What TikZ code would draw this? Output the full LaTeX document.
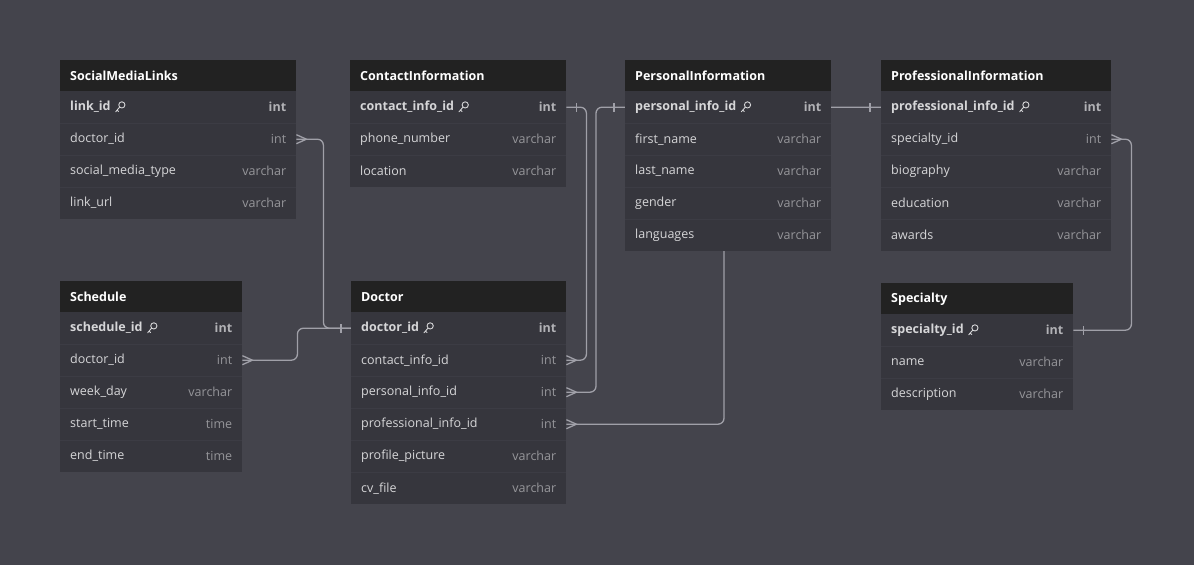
\documentclass[tikz,border=0pt]{standalone}
\usepackage{fontspec}
\setmainfont{Open Sans}
\usetikzlibrary{calc}
\pgfdeclarelayer{canvaslayer}
\pgfdeclarelayer{bg}
\pgfsetlayers{canvaslayer,bg,main}
\definecolor{canvas}{RGB}{68,68,76}
\definecolor{bodyc}{RGB}{54,54,61}
\definecolor{hdrc}{RGB}{34,34,34}
\definecolor{sepc}{RGB}{60,60,68}
\definecolor{fieldc}{RGB}{214,214,216}
\definecolor{typec}{RGB}{150,150,154}
\definecolor{pktypec}{RGB}{178,178,182}
\definecolor{linec}{RGB}{160,160,168}
\tikzset{
  x=1pt, y=-1pt,
  hdrbox/.style={fill=hdrc, draw=none, minimum height=32pt, inner sep=0pt, anchor=north west},
  rowbox/.style={fill=bodyc, draw=none, minimum height=32pt, inner sep=0pt, anchor=north west},
  hdrtext/.style={text=white, font=\fontsize{12.5}{14}\selectfont\bfseries, inner sep=0pt, anchor=west},
  fieldtext/.style={text=fieldc, font=\fontsize{12.5}{14}\selectfont, inner sep=0pt, anchor=west},
  pktext/.style={text=fieldc, font=\fontsize{12.5}{14}\selectfont\bfseries, inner sep=0pt, anchor=west},
  typetext/.style={text=typec, font=\fontsize{12.5}{14}\selectfont, inner sep=0pt, anchor=east},
  pktypetext/.style={text=pktypec, font=\fontsize{12.5}{14}\selectfont\bfseries, inner sep=0pt, anchor=east},
  conn/.style={draw=linec, line width=1.3pt, rounded corners=6pt},
  relmark/.style={draw=linec, line width=1.3pt},
  keyicon/.style={draw=fieldc, line width=0.9pt, line cap=round},
}
% table header: name, x, y, width, title
\newcommand{\erhead}[5]{%
  \node[hdrbox, minimum width=#4pt] (#1) at (#2,#3) {};
  \node[hdrtext] (#1-title) at ([xshift=10pt]#1.west) {#5};}
% normal row: name, x, ytop, width, field, type
\newcommand{\errow}[6]{%
  \node[rowbox, minimum width=#4pt] (#1) at (#2,#3) {};
  \draw[sepc, line width=0.6pt] (#1.north west) -- (#1.north east);
  \node[fieldtext] (#1-f) at ([xshift=10pt]#1.west) {#5};
  \node[typetext] (#1-t) at ([xshift=-10pt]#1.east) {#6};}
% primary key row: name, x, ytop, width, field, type
\newcommand{\erpk}[6]{%
  \node[rowbox, minimum width=#4pt] (#1) at (#2,#3) {};
  \node[pktext] (#1-f) at ([xshift=10pt]#1.west) {#5};
  \node[pktypetext] (#1-t) at ([xshift=-10pt]#1.east) {#6};
  \draw[keyicon] ([xshift=11pt,yshift=2.3pt]#1-f.east) circle (3.1pt);
  \draw[keyicon] ([xshift=8.8pt,yshift=0.1pt]#1-f.east) -- ([xshift=4.8pt,yshift=-4.6pt]#1-f.east)
     ([xshift=6.2pt,yshift=-2.9pt]#1-f.east) -- ([xshift=7.8pt,yshift=-4.3pt]#1-f.east);}
\begin{document}
\begin{tikzpicture}
\begin{pgfonlayer}{canvaslayer}
\fill[canvas] (0,0) rectangle (1194,565);
\end{pgfonlayer}
\useasboundingbox (0,0) rectangle (1194,565);

% SocialMediaLinks
\erhead{sml}{60}{60}{236}{SocialMediaLinks}
\erpk{sml1}{60}{91}{236}{link\_id}{int}
\errow{sml2}{60}{123}{236}{doctor\_id}{int}
\errow{sml3}{60}{155}{236}{social\_media\_type}{varchar}
\errow{sml4}{60}{187}{236}{link\_url}{varchar}

% ContactInformation
\erhead{con}{350}{60}{216}{ContactInformation}
\erpk{con1}{350}{91}{216}{contact\_info\_id}{int}
\errow{con2}{350}{123}{216}{phone\_number}{varchar}
\errow{con3}{350}{155}{216}{location}{varchar}

% PersonalInformation
\erhead{per}{625}{60}{206}{PersonalInformation}
\erpk{per1}{625}{91}{206}{personal\_info\_id}{int}
\errow{per2}{625}{123}{206}{first\_name}{varchar}
\errow{per3}{625}{155}{206}{last\_name}{varchar}
\errow{per4}{625}{187}{206}{gender}{varchar}
\errow{per5}{625}{219}{206}{languages}{varchar}

% ProfessionalInformation
\erhead{pro}{881}{60}{230}{ProfessionalInformation}
\erpk{pro1}{881}{91}{230}{professional\_info\_id}{int}
\errow{pro2}{881}{123}{230}{specialty\_id}{int}
\errow{pro3}{881}{155}{230}{biography}{varchar}
\errow{pro4}{881}{187}{230}{education}{varchar}
\errow{pro5}{881}{219}{230}{awards}{varchar}

% Schedule
\erhead{sch}{60}{281}{182}{Schedule}
\erpk{sch1}{60}{312}{182}{schedule\_id}{int}
\errow{sch2}{60}{344}{182}{doctor\_id}{int}
\errow{sch3}{60}{376}{182}{week\_day}{varchar}
\errow{sch4}{60}{408}{182}{start\_time}{time}
\errow{sch5}{60}{440}{182}{end\_time}{time}

% Doctor
\erhead{doc}{351}{281}{215}{Doctor}
\erpk{doc1}{351}{312}{215}{doctor\_id}{int}
\errow{doc2}{351}{344}{215}{contact\_info\_id}{int}
\errow{doc3}{351}{376}{215}{personal\_info\_id}{int}
\errow{doc4}{351}{408}{215}{professional\_info\_id}{int}
\errow{doc5}{351}{440}{215}{profile\_picture}{varchar}
\errow{doc6}{351}{472}{215}{cv\_file}{varchar}

% Specialty
\erhead{spe}{881}{283}{192}{Specialty}
\erpk{spe1}{881}{314}{192}{specialty\_id}{int}
\errow{spe2}{881}{346}{192}{name}{varchar}
\errow{spe3}{881}{378}{192}{description}{varchar}

\coordinate (bend5) at (724,300);

\begin{pgfonlayer}{bg}
% connectors
\draw[conn] (sml2.east) -- ([xshift=27pt]sml2.east) |- (doc1.west);
\draw[conn] (sch2.east) -- ([xshift=55pt]sch2.east) |- (doc1.west);
\draw[conn] (con1.east) -- ([xshift=20pt]con1.east) |- (doc2.east);
\draw[conn] (per1.west) -- ([xshift=-29pt]per1.west) |- (doc3.east);
\draw[conn] (doc4.east) -| (bend5) |- (pro1.west);
\draw[conn] (pro2.east) -- ([xshift=20pt]pro2.east) |- (spe1.east);
% crow's feet (many)
\foreach \n in {sml2,sch2,doc2,doc3,doc4,pro2}{
  \draw[relmark] ([yshift=-4.5pt]\n.east) -- ([xshift=10pt]\n.east) -- ([yshift=4.5pt]\n.east);
}
% bars (one)
\draw[relmark] ([xshift=-10pt,yshift=-4.5pt]doc1.west) -- ([xshift=-10pt,yshift=4.5pt]doc1.west);
\draw[relmark] ([xshift=10pt,yshift=-4.5pt]con1.east) -- ([xshift=10pt,yshift=4.5pt]con1.east);
\draw[relmark] ([xshift=-11pt,yshift=-4.5pt]per1.west) -- ([xshift=-11pt,yshift=4.5pt]per1.west);
\draw[relmark] ([xshift=-11pt,yshift=-4.5pt]pro1.west) -- ([xshift=-11pt,yshift=4.5pt]pro1.west);
\draw[relmark] ([xshift=10pt,yshift=-4.5pt]spe1.east) -- ([xshift=10pt,yshift=4.5pt]spe1.east);
\end{pgfonlayer}
\end{tikzpicture}
\end{document}
